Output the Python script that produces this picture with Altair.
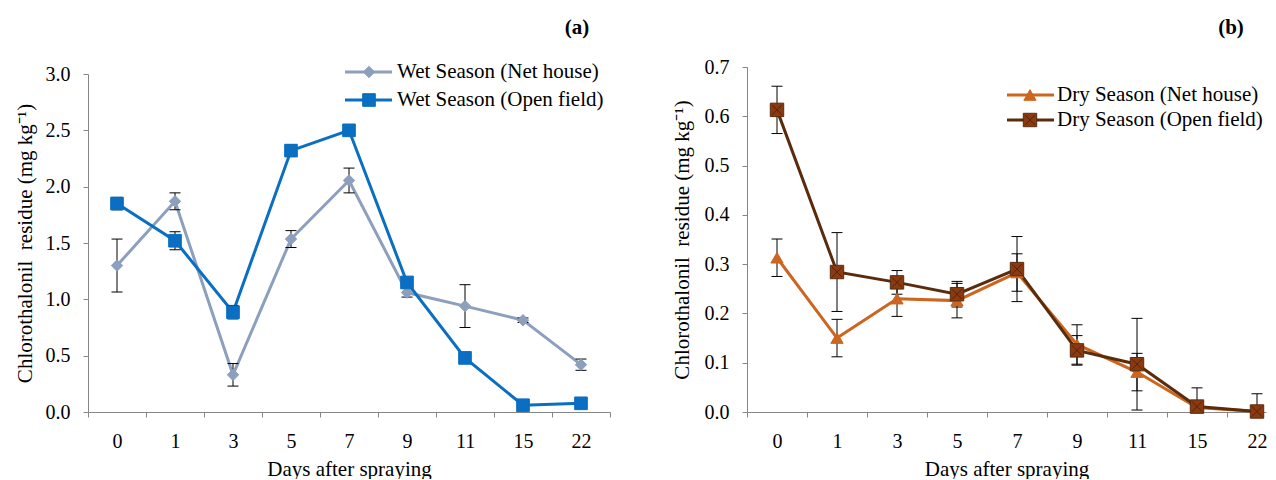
import json
import altair as alt
import pandas as pd

# ---------------- data ----------------
days = ["0", "1", "3", "5", "7", "9", "11", "15", "22"]

wet_net = [1.30, 1.87, 0.33, 1.535, 2.055, 1.06, 0.94, 0.815, 0.42]
wet_net_err = [0.235, 0.075, 0.10, 0.075, 0.11, 0.04, 0.19, 0.02, 0.05]
wet_open = [1.85, 1.52, 0.886, 2.32, 2.50, 1.15, 0.48, 0.06, 0.077]
wet_open_err = [0.055, 0.08, 0.06, 0.05, 0.02, 0.02, 0.02, 0.01, 0.01]

dry_net = [0.313, 0.150, 0.230, 0.226, 0.283, 0.137, 0.081, 0.009, 0.001]
dry_net_err = [0.038, 0.038, 0.036, 0.035, 0.038, 0.040, 0.038, 0.040, 0.002]
dry_open = [0.613, 0.284, 0.263, 0.239, 0.290, 0.125, 0.097, 0.011, 0.001]
dry_open_err = [0.048, 0.080, 0.024, 0.026, 0.066, 0.030, 0.093, 0.004, 0.036]

wet_names = ["Wet Season (Net house)", "Wet Season (Open field)"]
dry_names = ["Dry Season (Net house)", "Dry Season (Open field)"]

FONT = "Liberation Serif"
FS_TICK = 20
FS = 21
GRAY = "#868686"
Y_TITLE = "Chlorothalonil\u00a0 residue (mg kg\u207b\u00b9)"


def series_df(name, vals, errs):
    return pd.DataFrame({
        "idx": list(range(len(days))),
        "day": days,
        "series": name,
        "value": vals,
        "lo": [max(v - e, 0.0) for v, e in zip(vals, errs)],
        "hi": [v + e for v, e in zip(vals, errs)],
    })


def x_enc(xmax):
    vals = []
    k = -0.5
    while k <= xmax + 1e-9:
        vals.append(k)
        k += 0.5
    label_expr = "datum.value % 1 == 0 ? " + json.dumps(days) + "[datum.value] : ''"
    return alt.X(
        "idx:Q",
        scale=alt.Scale(domain=[-0.5, xmax], nice=False, zero=False),
        axis=alt.Axis(
            values=vals, labelExpr=label_expr, title="Days after spraying",
            grid=False, domainColor=GRAY, tickColor=GRAY, tickSize=5,
            tickOpacity={"condition": {"test": "datum.value % 1 != 0", "value": 1}, "value": 0},
            labelPadding=14, labelOverlap=False, labelFont=FONT, labelFontSize=FS_TICK,
            labelColor="black", titleFont=FONT, titleFontSize=FS, titleFontWeight="normal",
            titleColor="black", titlePadding=7,
        ),
    )


def y_enc(field, ymax, step, yrange, title_pad):
    n = int(round(ymax / step))
    vals = [round(i * step, 2) for i in range(n + 1)]
    return alt.Y(
        field,
        scale=alt.Scale(domain=[0, ymax], range=yrange, nice=False, zero=True),
        axis=alt.Axis(
            values=vals, format=".1f", title=Y_TITLE, grid=False,
            domainColor=GRAY, tickColor=GRAY, tickSize=5, labelPadding=13,
            labelFont=FONT, labelFontSize=FS_TICK, labelColor="black",
            titleFont=FONT, titleFontSize=FS, titleFontWeight="normal",
            titleColor="black", titlePadding=title_pad,
        ),
    )


def one(label):
    return pd.DataFrame({"label": [label]})


CROSS = "M-0.75,-0.75L0.75,0.75M-0.75,0.75L0.75,-0.75"


def marker_layers(data, st, x, y):
    out = [
        alt.Chart(data).mark_point(shape=st["shape"], filled=True, size=st["size"],
                                   fill=st["fill"], stroke=st["stroke"],
                                   strokeWidth=st["sw"], opacity=1)
        .encode(x=x, y=y)
    ]
    if st.get("cross"):
        out.append(
            alt.Chart(data).mark_point(shape=CROSS, filled=False, size=st["size"],
                                       stroke=st["cross"], strokeWidth=1, opacity=0.8)
            .encode(x=x, y=y)
        )
    return out


def panel(dfs, styles, ymax, step, yrange, xmax, title_pad, legend_pos, tag, tag_x):
    X = x_enc(xmax)
    Yv = y_enc("value:Q", ymax, step, yrange, title_pad)
    layers = []
    # lines
    for df, st in zip(dfs, styles):
        layers.append(
            alt.Chart(df).mark_line(color=st["line"], strokeWidth=3).encode(x=X, y=Yv)
        )
    # error bars
    for df in dfs:
        layers.append(
            alt.Chart(df).mark_rule(color="black", strokeWidth=1)
            .encode(x=X, y=y_enc("lo:Q", ymax, step, yrange, title_pad), y2="hi:Q")
        )
        for f in ["lo:Q", "hi:Q"]:
            layers.append(
                alt.Chart(df).mark_tick(color="black", thickness=1, size=11,
                                        orient="horizontal", opacity=1)
                .encode(x=X, y=y_enc(f, ymax, step, yrange, title_pad))
            )
    # markers
    for df, st in zip(dfs, styles):
        layers += marker_layers(df, st, X, Yv)
    # legend
    lx0, lx1, mx, tx, rows = legend_pos
    for st, ry in zip(styles, rows):
        d = one(st["name"])
        layers.append(
            alt.Chart(d).mark_rule(color=st["line"], strokeWidth=3)
            .encode(x=alt.value(lx0), x2=alt.value(lx1), y=alt.value(ry))
        )
        layers += marker_layers(d, st, alt.value(mx), alt.value(ry))
        layers.append(
            alt.Chart(d).mark_text(align="left", baseline="middle", font=FONT,
                                   fontSize=FS, color="black")
            .encode(x=alt.value(tx), y=alt.value(ry), text="label:N")
        )
    layers.append(
        alt.Chart(one(tag)).mark_text(align="center", baseline="middle", font=FONT,
                                      fontSize=FS, fontWeight="bold", color="black")
        .encode(x=alt.value(tag_x), y=alt.value(-39), text="label:N")
    )
    return alt.layer(*layers)


wet_styles = [
    dict(name=wet_names[0], line="#8C9FBD", shape="diamond", size=130, fill="#8C9FBD",
         stroke="#8C9FBD", sw=1),
    dict(name=wet_names[1], line="#0A6FC2", shape="square", size=160, fill="#0A6FC2",
         stroke="#0A6FC2", sw=1),
]
dry_styles = [
    dict(name=dry_names[0], line="#CC6520", shape="triangle-up", size=150, fill="#CC6520",
         stroke="#CC6520", sw=1),
    dict(name=dry_names[1], line="#5A2C0C", shape="square", size=180, fill="#8A3A10",
         stroke="#5A2C0C", sw=1, cross="#4A1E05"),
]

H = 345
left = panel(
    [series_df(wet_names[0], wet_net, wet_net_err), series_df(wet_names[1], wet_open, wet_open_err)],
    wet_styles, 3.0, 0.5, [H, 7], 8.5, 10,
    (257, 304, 281, 309, [5, 33]), "(a)", 489,
).properties(width=522, height=H)

right = panel(
    [series_df(dry_names[0], dry_net, dry_net_err), series_df(dry_names[1], dry_open, dry_open_err)],
    dry_styles, 0.7, 0.1, [H, 0], 8.15, 12,
    (260, 307, 283, 310, [28, 53]), "(b)", 484,
).properties(width=519, height=H)

chart = (
    alt.hconcat(left, right, spacing=60)
    .properties(padding={"left": 6, "top": 9, "right": 0, "bottom": 0})
    .configure_view(strokeWidth=0)
)

chart.save("out.html", embed_options={"renderer": "svg", "actions": False})
